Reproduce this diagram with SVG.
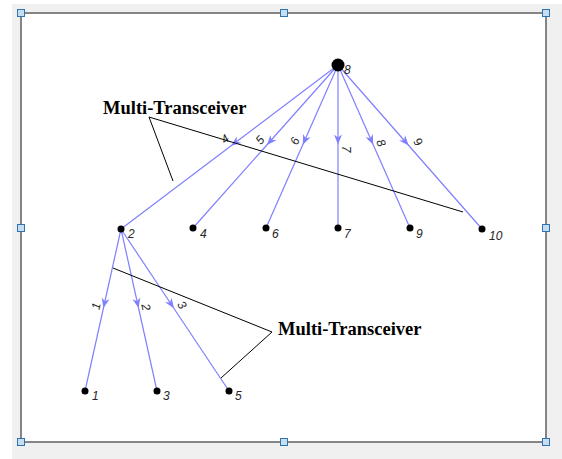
<svg xmlns="http://www.w3.org/2000/svg" width="562" height="459" viewBox="0 0 562 459">
<style>
.edge{fill:none;stroke:#8080ff;stroke-width:1.2}
.call{fill:none;stroke:#000;stroke-width:1}
.dot{fill:#000}
.nl{font-family:"Liberation Sans",Arial,sans-serif;font-style:italic;font-size:12px;fill:#262626}
.el{font-family:"Liberation Sans",Arial,sans-serif;font-style:italic;font-size:12px;fill:#262626;text-anchor:middle;dominant-baseline:central}
.mt{font-family:"Liberation Serif","Times New Roman",serif;font-weight:bold;font-size:18.5px;fill:#000}
.handle{fill:#c7ddf0;stroke:#2e73b4;stroke-width:1}
</style>
<defs>
<marker id="arr" markerUnits="userSpaceOnUse" markerWidth="14" markerHeight="10" refX="12" refY="4" orient="auto" overflow="visible">
<path d="M0,0 L10,4 L0,8 L3,4 z" fill="#8080ff"/>
</marker>
</defs>
<rect x="0" y="0" width="562" height="459" fill="#ffffff"/>
<rect x="12" y="4" width="550" height="455" fill="#f0f0f0"/>
<rect x="21" y="13" width="525" height="429" fill="#ffffff" stroke="#5f5f5f" stroke-width="1.5"/>
<g id="handles">
<rect class="handle" x="17.5" y="9.5" width="7" height="7"/>
<rect class="handle" x="280.5" y="9.5" width="7" height="7"/>
<rect class="handle" x="542.5" y="9.5" width="7" height="7"/>
<rect class="handle" x="17.5" y="224.5" width="7" height="7"/>
<rect class="handle" x="542.5" y="224.5" width="7" height="7"/>
<rect class="handle" x="17.5" y="438.5" width="7" height="7"/>
<rect class="handle" x="280.5" y="438.5" width="7" height="7"/>
<rect class="handle" x="542.5" y="438.5" width="7" height="7"/>
</g>
<g id="connectors">
<path class="edge" marker-mid="url(#arr)" d="M338,65 L229.5,147 L121,229"/>
<path class="edge" marker-mid="url(#arr)" d="M338,65 L265.5,146.5 L193,228"/>
<path class="edge" marker-mid="url(#arr)" d="M338,65 L302,146.5 L266,228"/>
<path class="edge" marker-mid="url(#arr)" d="M338,65 L338,146.5 L338,228"/>
<path class="edge" marker-mid="url(#arr)" d="M338,65 L374,146.5 L410,228"/>
<path class="edge" marker-mid="url(#arr)" d="M338,65 L410,147 L482,229"/>
<path class="edge" marker-mid="url(#arr)" d="M121,229 L103,310 L85,391"/>
<path class="edge" marker-mid="url(#arr)" d="M121,229 L139,310 L157,391"/>
<path class="edge" marker-mid="url(#arr)" d="M121,229 L175,310 L229,391"/>
<text class="el" transform="translate(225,139) rotate(-37)">4</text>
<text class="el" transform="translate(260,140) rotate(-48)">5</text>
<text class="el" transform="translate(295,141) rotate(-66)">6</text>
<text class="el" transform="translate(346,149) rotate(90)">7</text>
<text class="el" transform="translate(381,143) rotate(66)">8</text>
<text class="el" transform="translate(418,142) rotate(49)">9</text>
<text class="el" transform="translate(96,306) rotate(-77)">1</text>
<text class="el" transform="translate(146,307) rotate(77)">2</text>
<text class="el" transform="translate(182,305) rotate(56)">3</text>
</g>
<g id="n8"><circle class="dot" cx="338" cy="65" r="6.5"/><text class="nl" x="344" y="74">8</text></g>
<g id="n2"><circle class="dot" cx="121" cy="229" r="3.5"/><text class="nl" x="128" y="238">2</text></g>
<g id="n4"><circle class="dot" cx="193" cy="228" r="3.5"/><text class="nl" x="200" y="238">4</text></g>
<g id="n6"><circle class="dot" cx="266" cy="228" r="3.5"/><text class="nl" x="272" y="238">6</text></g>
<g id="n7"><circle class="dot" cx="338" cy="228" r="3.5"/><text class="nl" x="344" y="238">7</text></g>
<g id="n9"><circle class="dot" cx="410" cy="228" r="3.5"/><text class="nl" x="416" y="238">9</text></g>
<g id="n10"><circle class="dot" cx="482" cy="229" r="3.5"/><text class="nl" x="489" y="240">10</text></g>
<g id="n1"><circle class="dot" cx="85" cy="391" r="3.5"/><text class="nl" x="92" y="400">1</text></g>
<g id="n3"><circle class="dot" cx="157" cy="391" r="3.5"/><text class="nl" x="163" y="400">3</text></g>
<g id="n5"><circle class="dot" cx="229" cy="391" r="3.5"/><text class="nl" x="235" y="400">5</text></g>
<g id="callout1">
<path class="call" d="M463,212 L149,117 L173,181"/>
<text class="mt" x="103" y="114">Multi-Transceiver</text>
</g>
<g id="callout2">
<path class="call" d="M113,268 L272,332 L221,378"/>
<text class="mt" x="278" y="335">Multi-Transceiver</text>
</g>
</svg>
